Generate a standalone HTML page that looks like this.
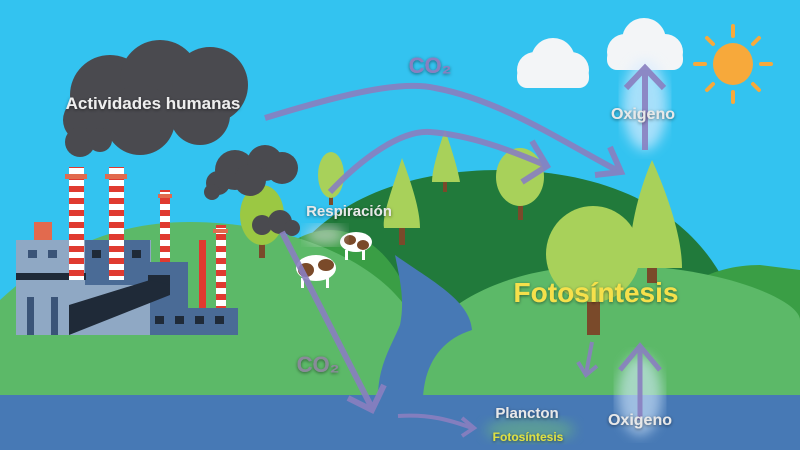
<!DOCTYPE html>
<html><head><meta charset="utf-8"><style>
html,body{margin:0;padding:0;background:#33c3f0;width:800px;height:450px;overflow:hidden}
svg{display:block}
text{font-family:"Liberation Sans",sans-serif;font-weight:bold}
</style></head><body>
<svg width="800" height="450" viewBox="0 0 800 450" xmlns="http://www.w3.org/2000/svg">
<defs>
<filter id="sh"><feDropShadow dx="0" dy="1" stdDeviation="1.5" flood-color="#000" flood-opacity="0.5"/></filter>
<filter id="bl"><feGaussianBlur stdDeviation="6"/></filter>
<pattern id="st" width="10" height="12" patternUnits="userSpaceOnUse"><rect width="10" height="6" fill="#fff"/><rect y="6" width="10" height="6" fill="#e03a30"/></pattern>
</defs>
<rect width="800" height="450" fill="#33c3f0"/>
<!-- hills -->
<path d="M250 397 C250 230 370 170 500 170 C630 170 750 230 750 397 Z" fill="#217a3b"/>
<path d="M620 397 C640 300 700 265 760 265 L800 270 L800 397 Z" fill="#3a9e45"/>
<path d="M240 370 C240 270 290 230 330 230 C370 230 420 270 420 370 Z" fill="#3a9e45"/>
<path d="M0 397 L0 300 C60 245 120 222 190 222 C300 222 400 270 420 335 L420 397 Z" fill="#5cb968"/>
<path d="M400 397 C410 310 500 265 610 265 C720 265 800 300 800 320 L800 397 Z" fill="#5cb968"/>
<rect x="0" y="335" width="800" height="62" fill="#5cb968"/>
<path d="M395 255 C430 280 470 300 472 330 C440 340 425 365 423 397 L378 397 C378 365 392 345 400 325 C405 300 400 280 395 255 Z" fill="#4779b5"/>
<rect x="0" y="395" width="800" height="55" fill="#4779b5"/>
<!-- trees -->
<g>
<rect x="259" y="230" width="6" height="28" fill="#7a4a2a"/><ellipse cx="262" cy="215" rx="22" ry="30" fill="#9bc843"/>
<rect x="329" y="190" width="4" height="15" fill="#7a4a2a"/><ellipse cx="331" cy="175" rx="13" ry="23" fill="#a8d15a"/>
<rect x="399" y="225" width="6" height="20" fill="#7a4a2a"/><path d="M402 158 C392 190 382 215 384 228 L420 228 C420 210 412 185 402 158Z" fill="#a8d15a"/>
<rect x="443" y="180" width="4" height="12" fill="#7a4a2a"/><path d="M445 130 C438 150 432 170 432 182 L460 182 C458 170 452 150 445 130Z" fill="#a8d15a"/>
<rect x="518" y="195" width="5" height="25" fill="#7a4a2a"/><ellipse cx="520" cy="177" rx="24" ry="29" fill="#a8d15a"/>
<rect x="587" y="290" width="13" height="45" fill="#7a4a2a"/><ellipse cx="593" cy="254" rx="47" ry="48" fill="#a8d15a"/>
<rect x="647" y="265" width="10" height="18" fill="#7a4a2a"/><path d="M652 160 C635 200 628 240 630 268 L682 268 C682 240 670 200 652 160Z" fill="#a8d15a"/>
</g>
<!-- factory -->
<g>
<rect x="16" y="240" width="135" height="95" fill="#8fa8c4"/>
<rect x="85" y="240" width="65" height="45" fill="#4a6b96"/>
<rect x="150" y="262" width="38" height="73" fill="#4a6b96"/>
<rect x="188" y="308" width="50" height="27" fill="#4a6b96"/>
<rect x="16" y="273" width="70" height="7" fill="#1f2a38"/>
<rect x="148" y="275" width="22" height="20" fill="#1f2a38"/>
<polygon points="69,305 150,280 170,285 170,295 69,335" fill="#1f2a38"/>
<rect x="34" y="222" width="18" height="18" fill="#e26a4e"/>
<rect x="27" y="297" width="7" height="38" fill="#3a5478"/><rect x="51" y="297" width="7" height="38" fill="#3a5478"/>
<rect x="28" y="250" width="9" height="8" fill="#3a5478"/><rect x="48" y="250" width="9" height="8" fill="#3a5478"/>
<rect x="92" y="250" width="9" height="8" fill="#1f2a38"/><rect x="132" y="250" width="9" height="8" fill="#1f2a38"/>
<rect x="155" y="316" width="9" height="8" fill="#1f2a38"/><rect x="175" y="316" width="9" height="8" fill="#1f2a38"/><rect x="195" y="316" width="9" height="8" fill="#1f2a38"/><rect x="215" y="316" width="9" height="8" fill="#1f2a38"/>
<rect x="69" y="167" width="15" height="113" fill="url(#st)"/><rect x="65" y="174" width="22" height="5" fill="#e26a4e"/>
<rect x="109" y="167" width="15" height="113" fill="url(#st)"/><rect x="105" y="174" width="22" height="5" fill="#e26a4e"/>
<rect x="160" y="190" width="10" height="72" fill="url(#st)"/><rect x="158" y="194" width="14" height="4" fill="#e26a4e"/>
<rect x="216" y="225" width="10" height="83" fill="url(#st)"/><rect x="213" y="229" width="15" height="4" fill="#e26a4e"/>
<rect x="199" y="240" width="7" height="68" fill="#e03a30"/>
</g>
<!-- cows -->
<g>
<ellipse cx="316" cy="268" rx="20" ry="13" fill="#fff"/><ellipse cx="306" cy="270" rx="8" ry="7" fill="#7a4a2a"/><ellipse cx="326" cy="265" rx="8" ry="6" fill="#7a4a2a"/>
<rect x="301" y="278" width="3" height="10" fill="#fff"/><rect x="326" y="278" width="3" height="10" fill="#fff"/>
<ellipse cx="356" cy="242" rx="16" ry="10" fill="#fff"/><ellipse cx="350" cy="240" rx="6" ry="5" fill="#7a4a2a"/><ellipse cx="363" cy="245" rx="6" ry="5" fill="#7a4a2a"/>
<rect x="345" y="250" width="3" height="10" fill="#fff"/><rect x="362" y="250" width="3" height="10" fill="#fff"/>
<ellipse cx="325" cy="235" rx="20" ry="10" fill="#ddd" opacity="0.6" filter="url(#bl)"/>
</g>
<!-- dark clouds -->
<g fill="#4a4a4f">
<circle cx="110" cy="95" r="40"/><circle cx="160" cy="80" r="40"/><circle cx="210" cy="85" r="38"/><circle cx="140" cy="120" r="35"/><circle cx="200" cy="115" r="30"/><circle cx="85" cy="120" r="22"/><circle cx="80" cy="142" r="15"/><circle cx="100" cy="140" r="12"/>
<circle cx="235" cy="170" r="20"/><circle cx="265" cy="163" r="18"/><circle cx="282" cy="168" r="16"/><circle cx="250" cy="180" r="16"/><circle cx="218" cy="183" r="12"/><circle cx="212" cy="192" r="8"/>
<circle cx="262" cy="225" r="10"/><circle cx="280" cy="222" r="12"/><circle cx="292" cy="228" r="8"/>
</g>
<!-- white clouds -->
<g fill="#f3f5f7">
<circle cx="553" cy="60" r="22"/><circle cx="535" cy="70" r="18"/><circle cx="571" cy="70" r="18"/><rect x="517" y="66" width="72" height="22" rx="10"/>
<circle cx="644" cy="40" r="22"/><circle cx="625" cy="52" r="18"/><circle cx="665" cy="52" r="18"/><rect x="607" y="48" width="76" height="22" rx="10"/>
</g>
<!-- sun -->
<g stroke="#f7a93b" stroke-width="4" stroke-linecap="round">
<line x1="733" y1="26" x2="733" y2="36"/><line x1="733" y1="92" x2="733" y2="102"/><line x1="695" y1="64" x2="705" y2="64"/><line x1="761" y1="64" x2="771" y2="64"/>
<line x1="707" y1="38" x2="713" y2="44"/><line x1="753" y1="84" x2="759" y2="90"/><line x1="759" y1="38" x2="753" y2="44"/><line x1="707" y1="90" x2="713" y2="84"/>
</g>
<ellipse cx="733" cy="64" rx="20" ry="21" fill="#f7a93b"/>
<!-- glows -->
<ellipse cx="645" cy="105" rx="22" ry="45" fill="#d8ecff" opacity="0.7" filter="url(#bl)"/>
<ellipse cx="640" cy="395" rx="22" ry="40" fill="#d8ecff" opacity="0.6" filter="url(#bl)"/>
<ellipse cx="530" cy="430" rx="45" ry="12" fill="#6fbf7a" opacity="0.5" filter="url(#bl)"/>
<!-- arrows -->
<g fill="none" stroke="#8a7fc0" stroke-width="6" stroke-linejoin="miter" opacity="0.9">
<path d="M265 118 C340 95 400 80 435 88 C500 100 560 140 620 172"/>
<path d="M595 175 L621 172 L610 147"/>
<path d="M330 192 C360 160 400 130 430 132 C470 135 510 150 545 165"/>
<path d="M522 182 L547 166 L532 141"/>
<path d="M282 232 L372 408"/>
<path d="M348 398 L372 410 L384 385"/>
<path d="M645 150 L645 70"/><path d="M626 88 L645 68 L664 88"/>
</g>
<g fill="none" stroke="#8a7fc0" stroke-width="4" opacity="0.9">
<path d="M398 416 C430 414 450 420 472 428"/><path d="M462 418 L474 428 L462 436"/>
<path d="M592 342 L586 374"/><path d="M578 362 L586 375 L597 366"/>
<path d="M640 420 L640 350" stroke-width="5"/><path d="M620 370 L640 346 L660 370" stroke-width="5"/>
</g>
<!-- labels -->
<g filter="url(#sh)">
<text x="153" y="109" font-size="17" fill="#eee" text-anchor="middle">Actividades humanas</text>
<text x="430" y="73" font-size="22" fill="#8a7fc0" text-anchor="middle">CO₂</text>
<text x="643" y="119" font-size="16" fill="#e8e8e8" text-anchor="middle">Oxigeno</text>
<text x="349" y="216" font-size="15" fill="#e8e8e8" text-anchor="middle">Respiración</text>
<text x="596" y="302" font-size="28" fill="#f6e04b" text-anchor="middle">Fotosíntesis</text>
<text x="318" y="372" font-size="22" fill="#8a8a9a" text-anchor="middle">CO₂</text>
<text x="527" y="418" font-size="15" fill="#e8e8e8" text-anchor="middle">Plancton</text>
<text x="528" y="441" font-size="12" fill="#e0e040" text-anchor="middle">Fotosíntesis</text>
<text x="640" y="425" font-size="16" fill="#e8e8e8" text-anchor="middle">Oxigeno</text>
</g>
</svg>
</body></html>
